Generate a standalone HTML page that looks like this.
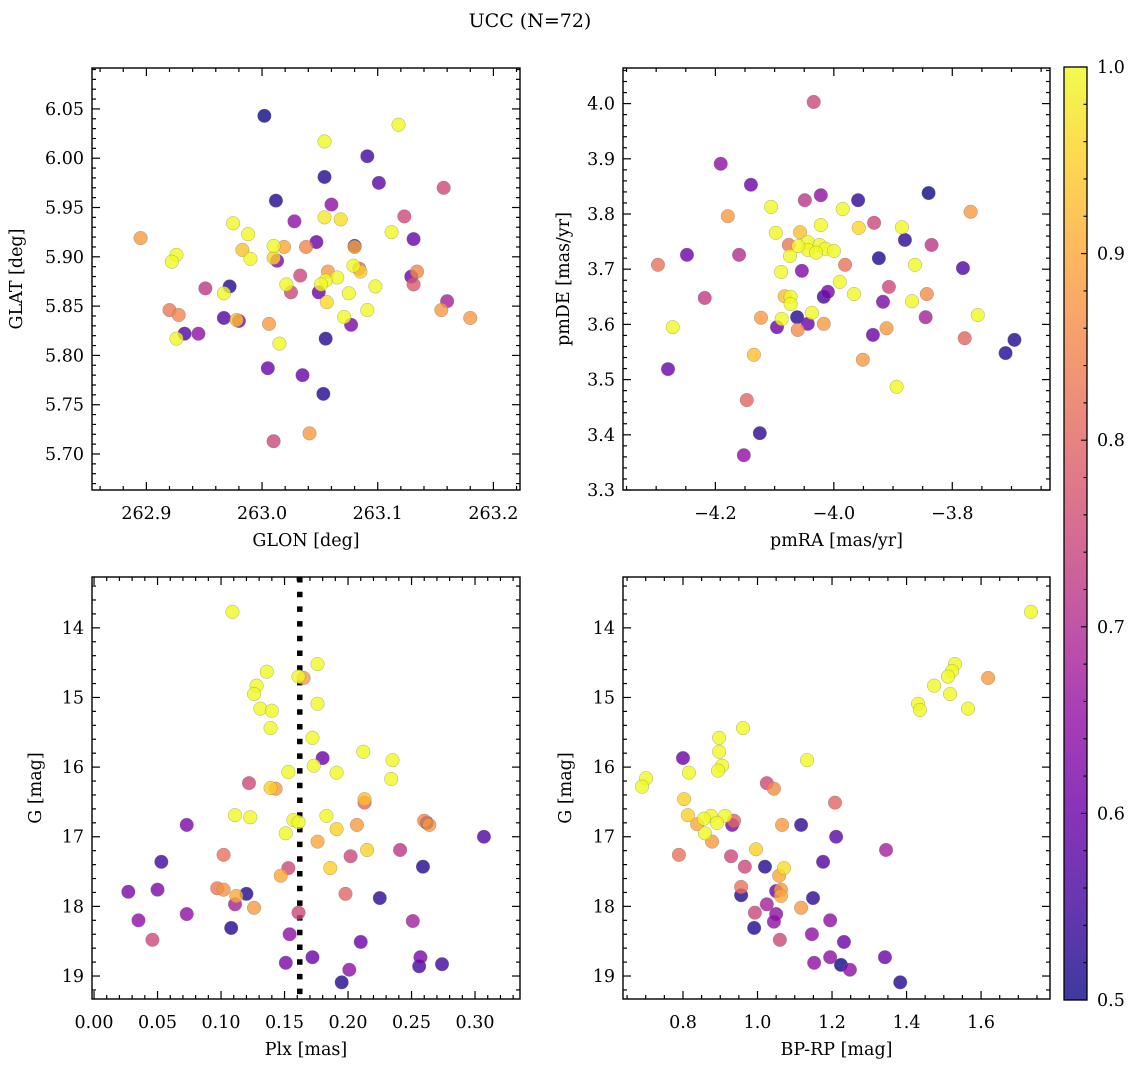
<!DOCTYPE html>
<html><head><meta charset="utf-8"><title>UCC (N=72)</title>
<style>
html,body{margin:0;padding:0;background:#fff;}
svg{display:block;font-family:"DejaVu Serif","Liberation Serif",serif;}
</style></head>
<body>
<svg id="fig" width="1136" height="1067" viewBox="0 0 1136 1067" xmlns="http://www.w3.org/2000/svg">
<defs>
<linearGradient id="cbgrad" x1="0" y1="1" x2="0" y2="0">
<stop offset="0" stop-color="#0d0887"/><stop offset="0.1" stop-color="#41049d"/><stop offset="0.2" stop-color="#6a00a8"/><stop offset="0.3" stop-color="#8f0da4"/><stop offset="0.4" stop-color="#b12a90"/><stop offset="0.5" stop-color="#cc4778"/><stop offset="0.6" stop-color="#e16462"/><stop offset="0.7" stop-color="#f2844b"/><stop offset="0.8" stop-color="#fca636"/><stop offset="0.9" stop-color="#fcce25"/><stop offset="1" stop-color="#f0f921"/>
</linearGradient>
</defs>
<text x="530" y="27" font-size="19" text-anchor="middle">UCC (N=72)</text>
</svg>
<script>
// ---- Panel A: GLON vs GLAT ----
const glon = [263.002,263.118,263.054,263.091,263.054,263.101,263.157,263.012,263.060,263.123,263.028,263.054,263.068,262.975,263.112,262.988,262.895,263.131,263.047,263.010,263.019,263.038,263.080,263.080,262.926,262.983,262.990,263.013,263.010,262.922,263.057,263.079,263.084,263.085,263.033,263.065,263.055,263.051,263.129,263.134,263.131,262.972,262.951,263.021,263.025,263.049,263.098,263.075,262.967,263.056,262.920,263.160,262.928,263.155,263.091,263.180,262.967,262.980,262.978,263.071,263.077,263.006,262.933,262.945,262.926,263.015,263.055,263.005,263.035,263.053,263.041,263.010];
const glat = [6.043,6.034,6.017,6.002,5.981,5.975,5.970,5.957,5.953,5.941,5.936,5.940,5.938,5.934,5.925,5.923,5.919,5.918,5.915,5.911,5.910,5.910,5.911,5.910,5.902,5.907,5.898,5.896,5.899,5.895,5.885,5.891,5.888,5.885,5.881,5.879,5.876,5.872,5.880,5.885,5.872,5.870,5.868,5.872,5.864,5.864,5.870,5.863,5.863,5.854,5.846,5.855,5.841,5.846,5.846,5.838,5.838,5.835,5.836,5.839,5.831,5.832,5.822,5.822,5.817,5.812,5.817,5.787,5.780,5.761,5.721,5.713];
const probA = [0.50,1.0,1.0,0.55,0.52,0.58,0.75,0.52,0.65,0.75,0.65,0.98,0.97,1.0,1.0,1.0,0.88,0.60,0.60,1.0,0.90,0.85,0.52,0.90,1.0,0.93,1.0,0.62,0.95,1.0,0.88,1.0,0.80,0.95,0.75,1.0,1.0,1.0,0.60,0.85,0.78,0.52,0.72,1.0,0.75,0.60,1.0,1.0,1.0,0.96,0.83,0.68,0.85,0.88,1.0,0.88,0.57,0.62,0.93,1.0,0.62,0.88,0.57,0.65,1.0,1.0,0.52,0.60,0.60,0.52,0.88,0.75];
const glonTicks = [262.9,263.0,263.1,263.2];
const glatTicks = [5.70,5.75,5.80,5.85,5.90,5.95,6.00,6.05];

// ---- Panel B: pmRA vs pmDE ----
const pmra = [-4.034,-4.191,-4.140,-4.022,-4.049,-3.959,-3.840,-4.106,-3.985,-4.179,-3.769,-4.022,-3.958,-3.932,-3.885,-4.098,-4.057,-4.076,-4.044,-4.024,-4.014,-4.000,-4.044,-3.880,-3.835,-4.248,-4.160,-4.074,-3.924,-4.297,-3.981,-3.863,-3.782,-4.089,-4.054,-3.990,-3.907,-4.010,-4.017,-3.966,-3.843,-4.218,-4.083,-4.073,-4.073,-3.917,-3.868,-3.757,-4.037,-4.062,-4.123,-4.088,-3.845,-4.272,-4.096,-4.044,-4.017,-4.061,-3.911,-3.934,-3.779,-3.695,-3.710,-4.135,-3.951,-4.280,-3.894,-4.147,-4.125,-4.152,-4.060,-4.030];
const pmde = [4.003,3.891,3.853,3.834,3.825,3.825,3.838,3.813,3.809,3.796,3.804,3.780,3.775,3.784,3.776,3.766,3.767,3.744,3.749,3.744,3.737,3.733,3.735,3.753,3.744,3.726,3.726,3.724,3.720,3.708,3.708,3.708,3.702,3.695,3.697,3.677,3.668,3.659,3.650,3.655,3.655,3.648,3.651,3.650,3.637,3.641,3.642,3.617,3.621,3.613,3.612,3.610,3.613,3.595,3.595,3.601,3.601,3.590,3.593,3.581,3.575,3.572,3.548,3.545,3.536,3.519,3.487,3.463,3.403,3.363,3.742,3.730];
const probB = [0.75,0.65,0.60,0.65,0.72,0.53,0.50,1.0,1.0,0.88,0.88,1.0,0.96,0.75,1.0,1.0,0.93,0.83,1.0,1.0,1.0,1.0,1.0,0.53,0.72,0.60,0.70,1.0,0.52,0.82,0.82,1.0,0.57,1.0,0.63,1.0,0.75,0.62,0.55,1.0,0.86,0.73,0.93,1.0,1.0,0.62,1.0,1.0,1.0,0.52,0.88,1.0,0.68,1.0,0.60,0.60,0.88,0.86,0.88,0.60,0.80,0.52,0.52,0.93,0.88,0.60,1.0,0.80,0.53,0.65,1.0,1.0];
const pmraTicks = [-4.2,-4.0,-3.8];
const pmdeTicks = [3.3,3.4,3.5,3.6,3.7,3.8,3.9,4.0];

// ---- Panel C: Plx vs G ----
const plx = [0.109,0.176,0.136,0.165,0.161,0.128,0.126,0.176,0.131,0.140,0.139,0.172,0.212,0.180,0.235,0.173,0.153,0.191,0.234,0.122,0.143,0.139,0.213,0.213,0.111,0.123,0.183,0.157,0.161,0.073,0.262,0.260,0.264,0.207,0.191,0.151,0.307,0.176,0.215,0.241,0.102,0.202,0.053,0.259,0.153,0.186,0.147,0.097,0.102,0.027,0.050,0.120,0.112,0.198,0.225,0.111,0.126,0.073,0.161,0.035,0.251,0.108,0.154,0.046,0.210,0.172,0.257,0.256,0.151,0.274,0.201,0.195];
const gmagC = [13.77,14.52,14.63,14.72,14.70,14.83,14.95,15.09,15.16,15.19,15.44,15.58,15.78,15.87,15.90,15.98,16.07,16.08,16.17,16.23,16.31,16.30,16.51,16.46,16.69,16.72,16.70,16.76,16.79,16.83,16.80,16.77,16.83,16.83,16.89,16.95,17.00,17.07,17.19,17.19,17.26,17.28,17.36,17.43,17.45,17.45,17.56,17.74,17.76,17.79,17.76,17.82,17.85,17.82,17.88,17.97,18.02,18.11,18.09,18.20,18.21,18.31,18.40,18.48,18.51,18.73,18.73,18.86,18.81,18.83,18.91,19.09];
const probC = [1,1,1,0.88,1,1,1,1,1,1,1,1,1,0.6,1,1,1,1,1,0.75,0.88,0.95,0.8,0.93,1,1,1,1,1,0.62,0.52,0.85,0.88,0.88,0.95,1,0.57,0.9,0.95,0.72,0.82,0.75,0.55,0.52,0.75,0.95,0.9,0.83,0.87,0.62,0.62,0.52,0.9,0.8,0.53,0.68,0.88,0.65,0.75,0.65,0.68,0.52,0.65,0.75,0.6,0.6,0.62,0.55,0.62,0.55,0.65,0.52];
const plxMedian = [0.162];
const plxTicks = [0.00,0.05,0.10,0.15,0.20,0.25,0.30];
const gTicks = [14,15,16,17,18,19];

// ---- Panel D: BP-RP vs G ----
const bprp = [1.734,1.530,1.522,1.511,1.619,1.474,1.517,1.431,1.436,1.565,0.961,0.897,0.897,0.800,1.133,0.905,0.894,0.816,0.701,0.690,1.025,1.044,0.803,1.208,0.813,0.875,0.856,0.913,0.891,0.838,0.859,0.932,0.937,1.066,1.117,1.211,0.878,0.996,1.345,0.789,0.929,1.176,0.966,1.020,1.071,1.058,0.956,0.956,1.050,1.063,1.063,1.149,1.025,1.117,0.993,1.050,1.044,1.195,0.991,1.146,1.060,1.232,1.195,1.342,1.152,1.224,1.248,1.383];
const gmagD = [13.77,14.52,14.62,14.70,14.72,14.83,14.95,15.09,15.18,15.16,15.44,15.58,15.78,15.87,15.90,15.98,16.05,16.08,16.16,16.28,16.23,16.31,16.46,16.51,16.69,16.70,16.74,16.70,16.80,16.82,16.95,16.83,16.77,16.83,16.83,17.00,17.07,17.18,17.19,17.26,17.28,17.36,17.43,17.43,17.45,17.56,17.72,17.84,17.78,17.76,17.85,17.88,17.97,18.02,18.09,18.11,18.22,18.20,18.31,18.40,18.48,18.51,18.73,18.73,18.81,18.84,18.91,19.09];
const probD = [1,1,1,1,0.88,1,1,1,1,1,1,1,1,0.6,1,1,1,1,1,1,0.75,0.86,0.95,0.8,0.95,1,1,1,1,0.9,1,0.62,0.8,0.88,0.53,0.58,0.88,0.95,0.68,0.82,0.75,0.57,0.75,0.52,0.97,0.9,0.82,0.52,0.6,0.88,0.9,0.53,0.68,0.88,0.75,0.65,0.65,0.65,0.52,0.65,0.75,0.6,0.65,0.6,0.65,0.5,0.65,0.52];
const bprpTicks = [0.8,1.0,1.2,1.4,1.6];
const cbarTicks = [0.5,0.6,0.7,0.8,0.9,1.0];

const NS = "http://www.w3.org/2000/svg";
const svg = document.getElementById('fig');
function mk(tag, attrs, parent){
  const e = document.createElementNS(NS, tag);
  for (const k in attrs) e.setAttribute(k, attrs[k]);
  (parent||svg).appendChild(e);
  return e;
}
const stops = ["#0d0887","#41049d","#6a00a8","#8f0da4","#b12a90","#cc4778","#e16462","#f2844b","#fca636","#fcce25","#f0f921"];
function hex(h){return [parseInt(h.substr(1,2),16),parseInt(h.substr(3,2),16),parseInt(h.substr(5,2),16)];}
function plasma(p){
  let t = (p-0.5)/0.5; t = Math.max(0,Math.min(1,t));
  const f = t*10, i = Math.min(9,Math.floor(f)), r = f-i;
  const a = hex(stops[i]), b = hex(stops[i+1]);
  return 'rgb('+a.map((v,k)=>Math.round(v+(b[k]-v)*r)).join(',')+')';
}
function fmtNum(v,d){ const s = Math.abs(v).toFixed(d); return (v<0?'\u2212':'')+s; }
const FS = 17.5;

function panel(cfg){
  const g = mk('g', {});
  
  
  const L=cfg.x0,R=cfg.x1,T=cfg.y0,B=cfg.y1;
  const sx = v => L + (v-cfg.xmin)/(cfg.xmax-cfg.xmin)*(R-L);
  const sy = cfg.yinv ? (v => T + (v-cfg.ymin)/(cfg.ymax-cfg.ymin)*(B-T))
                      : (v => B - (v-cfg.ymin)/(cfg.ymax-cfg.ymin)*(B-T));
  const tg = mk('g', {stroke:'#000','stroke-width':1.2}, g);
  
  
  const eps=1e-9;
  for (let v=Math.ceil(cfg.xmin/cfg.xminor-eps)*cfg.xminor; v<=cfg.xmax; v+=cfg.xminor){
    const X=sx(v), maj = Math.abs(v/cfg.xmajor - Math.round(v/cfg.xmajor))<1e-6, len = maj?8:4;
    mk('line',{x1:X,x2:X,y1:B,y2:B-len},tg); mk('line',{x1:X,x2:X,y1:T,y2:T+len},tg);
  }
  for (let v=Math.ceil(cfg.ymin/cfg.yminor-eps)*cfg.yminor; v<=cfg.ymax; v+=cfg.yminor){
    const Y=sy(v), maj = Math.abs(v/cfg.ymajor - Math.round(v/cfg.ymajor))<1e-6, len = maj?8:4;
    mk('line',{x1:L,x2:L+len,y1:Y,y2:Y},tg); mk('line',{x1:R,x2:R-len,y1:Y,y2:Y},tg);
  }
  cfg.xticks.forEach(v=>{
    const t = mk('text',{x:sx(v),y:B+29,'font-size':FS,'text-anchor':'middle'},g);
    
    
    t.textContent = fmtNum(v,cfg.xdec);
  });
  cfg.yticks.forEach(v=>{
    const t = mk('text',{x:L-8,y:sy(v)+6,'font-size':FS,'text-anchor':'end'},g);
    
    
    t.textContent = fmtNum(v,cfg.ydec);
  });
  const xl = mk('text',{x:(L+R)/2,y:B+56,'font-size':FS,'text-anchor':'middle'},g);
  
  
  xl.textContent = cfg.xlabel;
  const ylx = cfg.ylx, yly=(T+B)/2;
  const yl = mk('text',{x:ylx,y:yly,'font-size':FS,'text-anchor':'middle',transform:'rotate(-90 '+ylx+' '+yly+')'},g);
  
  
  yl.textContent = cfg.ylabel;
  if (cfg.vline){
    cfg.vline.forEach(v=>{
      const ln = mk('line',{x1:sx(v),x2:sx(v),y1:T,y2:B,stroke:'#000','stroke-width':5.5,'stroke-dasharray':'5.5 9.2'},g);
      
      
    });
  }
  const idx = cfg.xs.map((_,i)=>i).sort((a,b)=>cfg.ps[a]-cfg.ps[b]);
  const pg = mk('g',{},g);
  
  
  idx.forEach(i=>{
    const c = mk('circle',{cx:sx(cfg.xs[i]),cy:sy(cfg.ys[i]),r:6.8,fill:plasma(cfg.ps[i]),'fill-opacity':0.8,stroke:'#777','stroke-opacity':0.6,'stroke-width':0.5},pg);
    
    
  });
  const fr = mk('rect',{x:L,y:T,width:R-L,height:B-T,fill:'none',stroke:'#000','stroke-width':1.4},g);
  
  
}

panel({name:'glon-glat-panel',x0:92,x1:520,y0:68,y1:490,xmin:262.853,xmax:263.223,ymin:5.6635,ymax:6.0915,
  xmajor:0.1,xminor:0.02,ymajor:0.05,yminor:0.01,xticks:glonTicks,yticks:glatTicks,xdec:1,ydec:2,
  xlabel:'GLON [deg]',ylabel:'GLAT [deg]',ylx:22,xs:glon,ys:glat,ps:probA});
panel({name:'pm-panel',x0:623,x1:1050,y0:68,y1:490,xmin:-4.356,xmax:-3.635,ymin:3.3,ymax:4.0645,
  xmajor:0.2,xminor:0.05,ymajor:0.1,yminor:0.02,xticks:pmraTicks,yticks:pmdeTicks,xdec:1,ydec:1,
  xlabel:'pmRA [mas/yr]',ylabel:'pmDE [mas/yr]',ylx:569,xs:pmra,ys:pmde,ps:probB});
panel({name:'plx-g-panel',x0:92,x1:520,y0:577,y1:999,xmin:-0.0016,xmax:0.3354,ymin:13.27,ymax:19.33,yinv:true,
  xmajor:0.05,xminor:0.01,ymajor:1,yminor:0.2,xticks:plxTicks,yticks:gTicks,xdec:2,ydec:0,
  xlabel:'Plx [mas]',ylabel:'G [mag]',ylx:41,xs:plx,ys:gmagC,ps:probC,vline:plxMedian});
panel({name:'cmd-panel',x0:623,x1:1050,y0:577,y1:999,xmin:0.639,xmax:1.785,ymin:13.27,ymax:19.33,yinv:true,
  xmajor:0.2,xminor:0.05,ymajor:1,yminor:0.2,xticks:bprpTicks,yticks:gTicks,xdec:1,ydec:0,
  xlabel:'BP-RP [mag]',ylabel:'G [mag]',ylx:571,xs:bprp,ys:gmagD,ps:probD});

// colorbar
const cb = mk('g',{});


const cT=67,cB=1000,cL=1064,cR=1087;
mk('rect',{x:cL,y:cT,width:cR-cL,height:cB-cT,fill:'url(#cbgrad)','fill-opacity':0.8},cb);
const cy = v => cB - (v-0.5)/0.5*(cB-cT);
for (let k=0;k<=25;k++){
  const v = 0.5+k*0.02, Y=cy(v), maj = k%5===0;
  mk('line',{x1:cR,x2:cR-(maj?6:3.5),y1:Y,y2:Y,stroke:'#000','stroke-width':1.1},cb);
}
cbarTicks.forEach(v=>{
  const t = mk('text',{x:1097,y:cy(v)+6,'font-size':FS},cb);
  
  
  t.textContent = v.toFixed(1);
});
mk('rect',{x:cL,y:cT,width:cR-cL,height:cB-cT,fill:'none',stroke:'#000','stroke-width':1.3},cb);
</script>
</body></html>
